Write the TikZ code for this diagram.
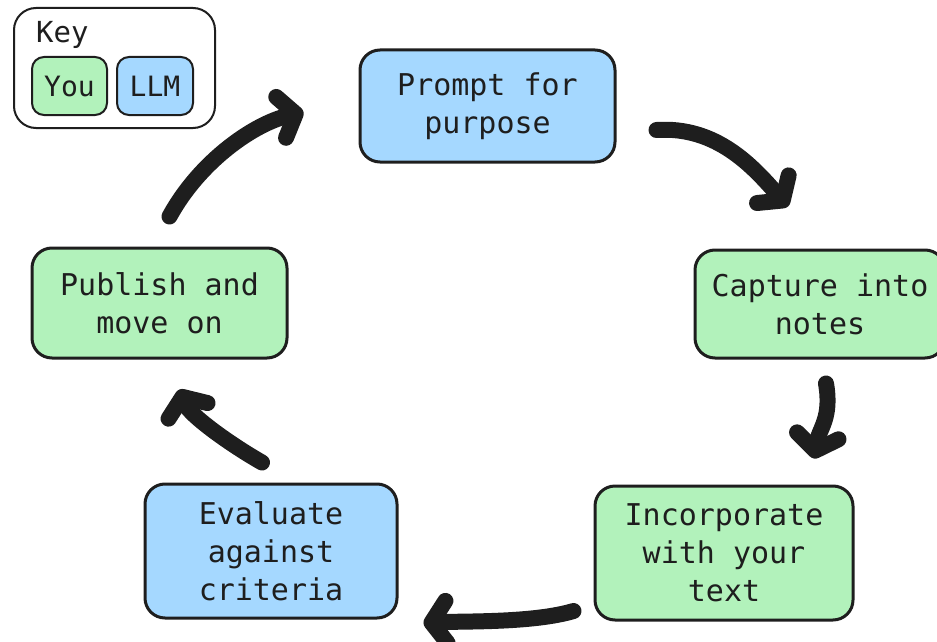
\documentclass[tikz,border=0pt]{standalone}
\usepackage{fontspec}
\setmonofont{DejaVu Sans Mono}
\usetikzlibrary{arrows.meta,calc}
\definecolor{ink}{HTML}{1E1E1E}
\definecolor{youfill}{HTML}{B2F2BB}
\definecolor{llmfill}{HTML}{A5D8FF}
\tikzset{
  stepbox/.style={draw=ink, line width=3pt, rounded corners=20pt, align=center,
    font=\ttfamily\fontsize{30}{38}\selectfont, text=ink, inner sep=0pt},
  yourstep/.style={stepbox, fill=youfill},
  llmstep/.style={stepbox, fill=llmfill},
  keychip/.style={draw=ink, line width=2pt, rounded corners=12pt, inner sep=0pt,
    font=\ttfamily\fontsize{28}{34}\selectfont, text=ink},
  flow/.style={draw=ink, line width=16pt, line cap=round, line join=round,
    -{Straight Barb[length=15pt,width=42pt,round]}},
}
\begin{document}
\begin{tikzpicture}[x=1pt,y=-1pt]
\useasboundingbox (0,0) rectangle (937,642);
% key
\node[draw=ink, line width=2pt, rounded corners=22pt, minimum width=201pt, minimum height=120pt] (key) at (114.5,68) {};
\node[font=\ttfamily\fontsize{29}{34}\selectfont, text=ink, anchor=west, inner sep=0pt] (keylabel) at (36,35) {Key};
\node[keychip, fill=youfill, minimum width=75pt, minimum height=58pt] (you) at (69.5,86) {You};
\node[keychip, fill=llmfill, minimum width=76pt, minimum height=58pt] (llm) at (155,86) {LLM};
% steps
\node[llmstep, minimum width=255pt, minimum height=112pt] (prompt) at (487.5,106) {Prompt for\\purpose};
\node[yourstep, minimum width=250pt, minimum height=108pt] (capture) at (820,304) {Capture into\\notes};
\node[yourstep, minimum width=258pt, minimum height=134pt] (incorporate) at (724,553) {Incorporate\\with your\\text};
\node[llmstep, minimum width=252pt, minimum height=134pt] (evaluate) at (271,551) {Evaluate\\against\\criteria};
\node[yourstep, minimum width=255pt, minimum height=110pt] (publish) at (159.5,303) {Publish and\\move on};
% connectors
\draw[flow] ($(publish.north)+(10,-30)$) .. controls +(30,-55) and +(-50,12) .. ($(prompt.west)+(-55,6)$);
\draw[flow] ($(prompt.east)+(40,24)$) .. controls +(60,-4) and +(-35,-40) .. ($(capture.north)+(-32,-42)$);
\draw[flow] ($(capture.south)+(6,24)$) .. controls +(6,35) and +(5,-30) .. ($(incorporate.north)+(90,-26)$);
\draw[flow] ($(incorporate.west)+(-20,58)$) .. controls +(-40,12) and +(40,-2) .. ($(evaluate.east)+(25,72)$);
\draw[flow] ($(evaluate.north)+(-9,-20)$) .. controls +(-35,-20) and +(10,25) .. ($(publish.south)+(20,30)$);
\end{tikzpicture}
\end{document}
